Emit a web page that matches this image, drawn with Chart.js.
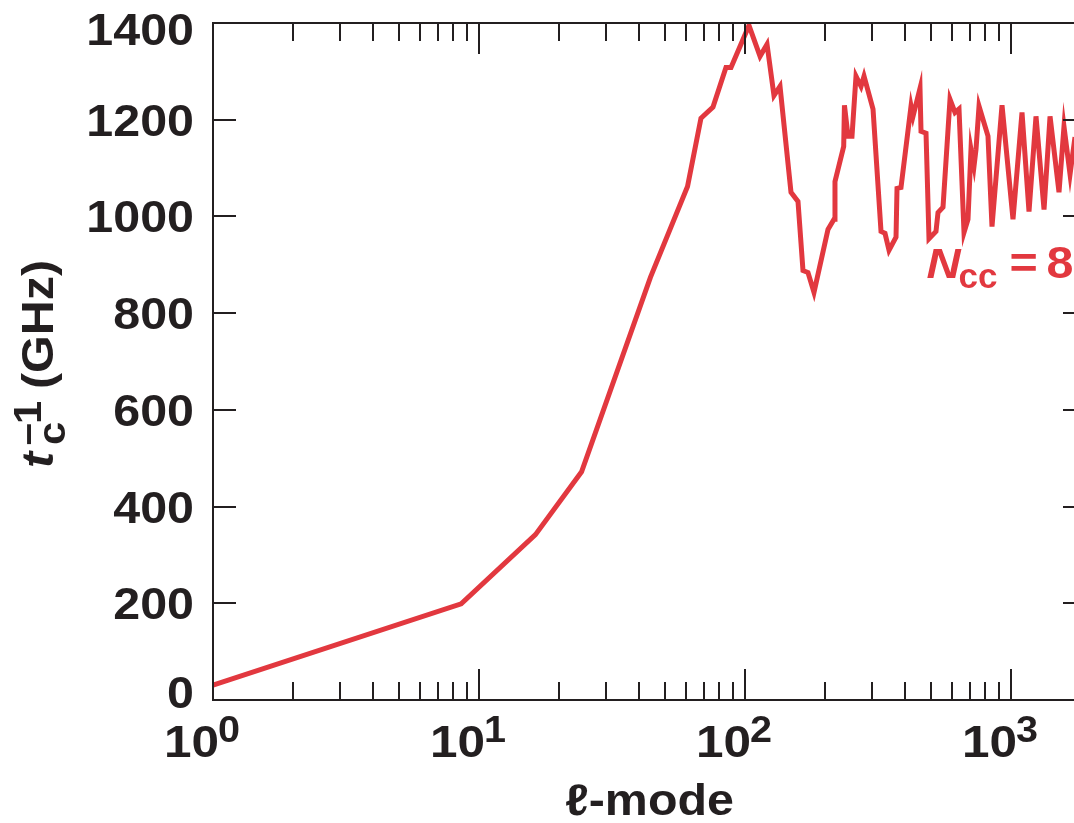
<!DOCTYPE html>
<html>
<head>
<meta charset="utf-8">
<script src="https://cdn.jsdelivr.net/npm/chart.js@4.4.1/dist/chart.umd.min.js"></script>
<style>
html,body{margin:0;padding:0;background:#fff;overflow:hidden;width:1074px;height:823px;}
canvas{display:block;}
</style>
</head>
<body>
<canvas id="c" width="1100" height="823"></canvas>
<script>
// ---- data ----
const ellModes = [1, 8.57, 16.3, 24.3, 44.1, 60.8, 68.3, 75.8, 84.8, 88.6, 103.5, 113.9, 121, 128.5, 135.4, 148.9, 158.2, 165.2, 172.5, 181.7, 205.1, 216.1, 217.9, 235, 236.5, 243.9, 252.5, 261.4, 273, 280.2, 302.9, 324.6, 336, 347.9, 369.6, 372.8, 385.9, 420.9, 428.2, 454.9, 458.9, 479.2, 491.7, 522.4, 531.6, 555.1, 589.8, 615.9, 637.6, 665.8, 689.2, 707.3, 726, 738.7, 758.2, 819.4, 848.3, 925.2, 1017.4, 1100, 1168.6, 1241.6, 1331, 1402, 1515, 1582, 1667, 1740];
const invTc = [31, 199, 342, 472, 874, 1062, 1203, 1226, 1308, 1308, 1395, 1331, 1356, 1250, 1269, 1050, 1031, 888, 884, 843, 973, 994, 1072, 1145, 1230, 1166, 1166, 1290, 1269, 1290, 1222, 969, 965, 930, 957, 1058, 1060, 1228, 1207, 1265, 1176, 1172, 954, 969, 1008, 1019, 1242, 1215, 1222, 967, 994, 1139, 1104, 1139, 1228, 1166, 979, 1230, 994, 1215, 1010, 1207, 1014, 1207, 1050, 1186, 1087, 1164];
const yTickValues = [0, 200, 400, 600, 800, 1000, 1200, 1400];
const xDecadeExponents = [0, 1, 2, 3];
const xMinorMultipliers = [2, 3, 4, 5, 6, 7, 8, 9];
const seriesLabel = 'N_cc = 8';
const labelAnchor = {x: 481, y: 873};

const INK = '#231f20';
const RED = '#e2383f';
const FAM = '"Liberation Sans", Arial, Helvetica, sans-serif';
const SX = 1.1;

function txt(ctx, s, x, y, font, align, sx) {
  ctx.save();
  ctx.translate(x, y);
  ctx.scale(sx || SX, 1);
  ctx.font = font;
  ctx.textAlign = align || 'left';
  ctx.textBaseline = 'alphabetic';
  ctx.fillText(s, 0, 0);
  ctx.restore();
}

const decor = {
  id: 'decor',
  afterDraw(chart) {
    const ctx = chart.ctx, a = chart.chartArea, xs = chart.scales.x, ys = chart.scales.y;
    ctx.save();
    ctx.strokeStyle = INK;
    ctx.lineWidth = 2;
    ctx.strokeRect(a.left, a.top, a.right - a.left, a.bottom - a.top);
    ctx.beginPath();
    // x ticks (inward, top and bottom)
    xDecadeExponents.forEach(e => {
      const vals = [[Math.pow(10, e), 31]].concat(xMinorMultipliers.map(m => [m * Math.pow(10, e), 18]));
      vals.forEach(([v, len]) => {
        if (v < xs.min || v > xs.max) return;
        const px = Math.round(xs.getPixelForValue(v));
        ctx.moveTo(px, a.bottom); ctx.lineTo(px, a.bottom - len);
        ctx.moveTo(px, a.top); ctx.lineTo(px, a.top + len);
      });
    });
    // y ticks (inward, left and right)
    yTickValues.forEach(v => {
      const py = Math.round(ys.getPixelForValue(v));
      ctx.moveTo(a.left, py); ctx.lineTo(a.left + 23, py);
      ctx.moveTo(a.right, py); ctx.lineTo(a.right - 23, py);
    });
    ctx.stroke();

    ctx.fillStyle = INK;
    // y tick labels
    yTickValues.forEach(v => {
      let cy = ys.getPixelForValue(v);
      cy = Math.min(Math.max(cy, a.top + 6), a.bottom - 8);
      txt(ctx, String(v), a.left - 19, cy + 16, 'bold 44px ' + FAM, 'right');
    });
    // x tick labels 10^n
    xDecadeExponents.forEach(e => {
      const px = xs.getPixelForValue(Math.pow(10, e));
      txt(ctx, '10', px + 6, 757, 'bold 45px ' + FAM, 'right');
      txt(ctx, String(e), px + 5, 742, 'bold 36px ' + FAM, 'left');
    });
    // x title
    txt(ctx, '\u2113-mode', (a.left + a.right) / 2, 815, 'bold 44px ' + FAM, 'center');

    // y title: t_c^-1 (GHz), rotated
    ctx.save();
    ctx.translate(53, 468);
    ctx.rotate(-Math.PI / 2);
    txt(ctx, 't', 0, 0, 'italic bold 44px ' + FAM, 'left');
    txt(ctx, 'c', 23, 12, 'bold 38px ' + FAM, 'left');
    txt(ctx, '\u2212', 22, -12, 'bold 36px ' + FAM, 'left');
    txt(ctx, '1', 44, -12, 'bold 38px ' + FAM, 'left');
    txt(ctx, '(GHz)', 79, 0, 'bold 44px ' + FAM, 'left');
    ctx.restore();

    // series annotation N_cc = 8
    const ax = xs.getPixelForValue(labelAnchor.x), ay = ys.getPixelForValue(labelAnchor.y);
    ctx.fillStyle = RED;
    txt(ctx, 'N', ax, ay, 'italic bold 43px ' + FAM, 'left');
    txt(ctx, 'cc', ax + 32, ay + 10, 'bold 35px ' + FAM, 'left', 1.0);
    txt(ctx, '=', ax + 83, ay, 'bold 44px ' + FAM, 'left');
    txt(ctx, '8', ax + 120, ay, 'bold 44px ' + FAM, 'left');
    ctx.restore();
  }
};

new Chart(document.getElementById('c'), {
  type: 'line',
  data: {
    datasets: [{
      label: seriesLabel,
      data: ellModes.map((l, i) => ({x: l, y: invTc[i]})),
      borderColor: RED,
      backgroundColor: RED,
      borderWidth: 5,
      borderJoinStyle: 'miter',
      pointRadius: 0,
      tension: 0,
      fill: false
    }]
  },
  options: {
    responsive: false,
    devicePixelRatio: 1,
    animation: false,
    layout: {padding: {top: 23, right: 14, left: 0, bottom: 0}},
    plugins: {legend: {display: false}, tooltip: {enabled: false}},
    scales: {
      x: {
        type: 'logarithmic', min: 1, max: 1914,
        grid: {display: false}, border: {display: false},
        ticks: {display: false},
        afterFit: s => { s.height = 123; }
      },
      y: {
        type: 'linear', min: 0, max: 1400,
        grid: {display: false}, border: {display: false},
        ticks: {display: false, stepSize: 200},
        afterFit: s => { s.width = 213; }
      }
    }
  },
  plugins: [decor]
});
</script>
</body>
</html>
